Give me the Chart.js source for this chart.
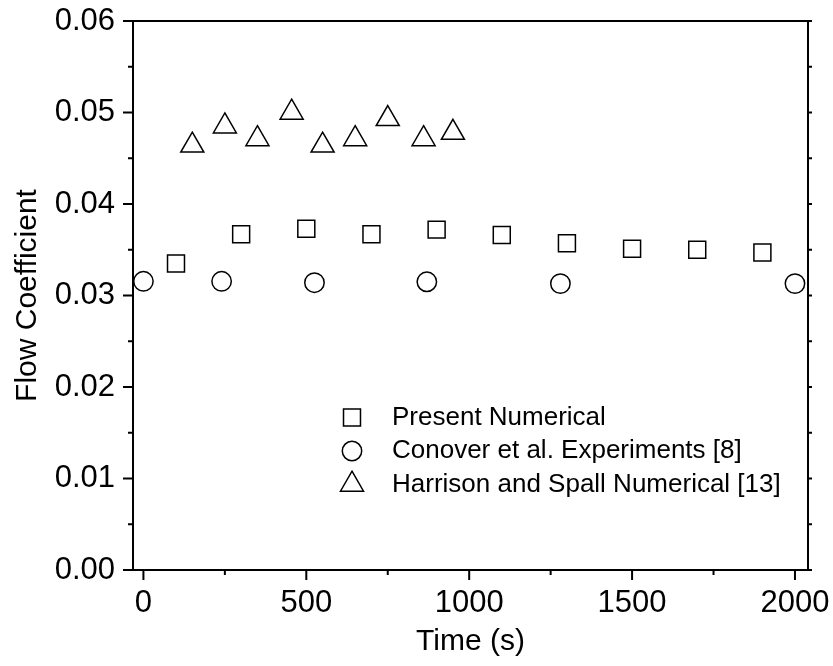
<!DOCTYPE html>
<html><head><meta charset="utf-8">
<script src="https://cdn.jsdelivr.net/npm/chart.js@4.4.0/dist/chart.umd.min.js"></script>
<style>html,body{margin:0;padding:0;background:#fff}#wrap{width:833px;height:666px;position:relative}</style>
</head><body><div id="wrap"><canvas id="c"></canvas></div>
<script>
const seriesLabels = ['Present Numerical', 'Conover et al. Experiments [8]', 'Harrison and Spall Numerical [13]'];
const presentTime = [100, 300, 500, 700, 900, 1100, 1300, 1500, 1700, 1900];
const presentFlow = [0.0335, 0.0367, 0.0373, 0.0367, 0.0372, 0.0366, 0.0357, 0.0351, 0.0350, 0.0347];
const conoverTime = [0, 240, 525, 870, 1280, 2000];
const conoverFlow = [0.03155, 0.03155, 0.0314, 0.0315, 0.0313, 0.0313];
const harrisonTime = [150, 250, 350, 455, 550, 650, 750, 860, 950];
const harrisonFlow = [0.0464, 0.0485, 0.0471, 0.0500, 0.0464, 0.0471, 0.0493, 0.0471, 0.0478];
const xMajorTicks = [0, 500, 1000, 1500, 2000];
const xMinorTicks = [250, 750, 1250, 1750];
const yMajorTicks = [0, 0.01, 0.02, 0.03, 0.04, 0.05, 0.06];
const yMinorTicks = [0.005, 0.015, 0.025, 0.035, 0.045, 0.055];
const xTitle = 'Time (s)';
const yTitle = 'Flow Coefficient';

const FONT = '"Liberation Sans", Arial, Helvetica, sans-serif';
const styles = [
  {pointStyle: 'rect', radius: 12},
  {pointStyle: 'circle', radius: 9.7},
  {pointStyle: 'triangle', radius: 13.3}
];
const toPts = (xs, ys) => xs.map((x, i) => ({x: x, y: ys[i]}));
const dataSets = [toPts(presentTime, presentFlow), toPts(conoverTime, conoverFlow), toPts(harrisonTime, harrisonFlow)];

const zeroPad = s => { s.paddingTop = 0; s.paddingBottom = 0; s.paddingLeft = 0; s.paddingRight = 0; };

const framePlugin = {
  id: 'frameTicks',
  afterDraw(chart) {
    const {ctx, chartArea: a, scales: {x, y}} = chart;
    ctx.save();
    ctx.strokeStyle = '#000';
    ctx.lineWidth = 2;
    ctx.lineCap = 'butt';
    ctx.strokeRect(a.left, a.top, a.right - a.left, a.bottom - a.top);
    ctx.beginPath();
    xMajorTicks.forEach(v => { const px = x.getPixelForValue(v); ctx.moveTo(px, a.bottom); ctx.lineTo(px, a.bottom + 10); });
    xMinorTicks.forEach(v => { const px = x.getPixelForValue(v); ctx.moveTo(px, a.bottom); ctx.lineTo(px, a.bottom + 5); });
    yMajorTicks.forEach(v => { const py = y.getPixelForValue(v); ctx.moveTo(a.left, py); ctx.lineTo(a.left - 10, py); ctx.moveTo(a.right, py); ctx.lineTo(a.right + 4, py); });
    yMinorTicks.forEach(v => { const py = y.getPixelForValue(v); ctx.moveTo(a.left, py); ctx.lineTo(a.left - 5, py); ctx.moveTo(a.right, py); ctx.lineTo(a.right + 4, py); });
    ctx.stroke();
    // legend
    const lx = 352, tx = 392, ly0 = 417.5, dy = 33.5;
    ctx.font = '26px ' + FONT;
    ctx.textBaseline = 'middle';
    ctx.textAlign = 'left';
    chart.data.datasets.forEach((ds, i) => {
      const yy = ly0 + i * dy;
      ctx.strokeStyle = '#000';
      ctx.fillStyle = 'rgba(0,0,0,0)';
      ctx.lineWidth = 1.5;
      Chart.helpers.drawPoint(ctx, {pointStyle: ds.pointStyle, radius: ds.pointRadius, rotation: 0, borderWidth: 1.5}, lx, yy);
      ctx.fillStyle = '#000';
      ctx.fillText(ds.label, tx, yy);
    });
    ctx.restore();
  }
};

new Chart(document.getElementById('c'), {
  type: 'scatter',
  data: {
    datasets: dataSets.map((d, i) => ({
      label: seriesLabels[i],
      data: d,
      pointStyle: styles[i].pointStyle,
      pointRadius: styles[i].radius,
      pointHoverRadius: styles[i].radius,
      pointBorderWidth: 1.5,
      pointBorderColor: '#000',
      pointBackgroundColor: 'rgba(0,0,0,0)',
      showLine: false,
      clip: false
    }))
  },
  options: {
    responsive: true,
    maintainAspectRatio: false,
    animation: false,
    events: [],
    layout: {padding: {top: 21, right: 25, left: 0, bottom: 0}},
    plugins: {legend: {display: false}, tooltip: {enabled: false}},
    scales: {
      x: {
        type: 'linear', min: -32, max: 2040,
        afterFit: s => { s.height = 96; zeroPad(s); },
        afterBuildTicks: s => { s.ticks = xMajorTicks.map(v => ({value: v})); },
        grid: {display: false, drawTicks: false},
        border: {display: false},
        ticks: {padding: 15, color: '#000', font: {family: FONT, size: 31}, maxRotation: 0, callback: v => String(v)},
        title: {display: true, text: xTitle, color: '#000', font: {family: FONT, size: 30}, padding: {top: 0, bottom: 6}}
      },
      y: {
        type: 'linear', min: 0, max: 0.06,
        afterFit: s => { s.width = 133; zeroPad(s); },
        afterBuildTicks: s => { s.ticks = yMajorTicks.map(v => ({value: v})); },
        grid: {display: false, drawTicks: false},
        border: {display: false},
        ticks: {padding: 18, color: '#000', font: {family: FONT, size: 31}, callback: v => Number(v).toFixed(2)},
        title: {display: true, text: yTitle, color: '#000', font: {family: FONT, size: 30}, padding: {top: 10, bottom: 0}}
      }
    }
  },
  plugins: [framePlugin]
});
</script>
</body></html>
